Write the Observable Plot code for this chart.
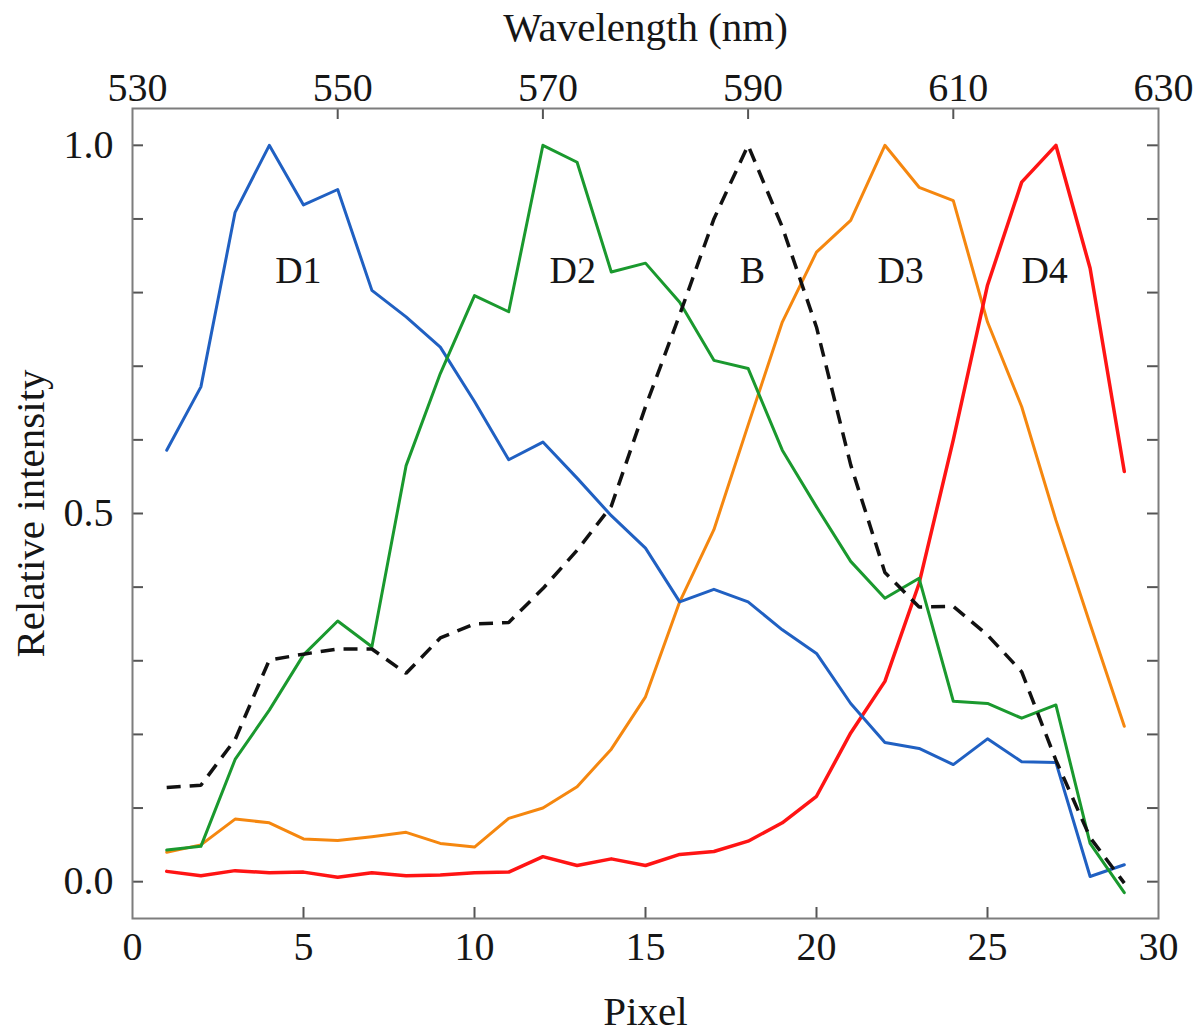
<!DOCTYPE html>
<html>
<head>
<meta charset="utf-8">
<script src="https://cdn.jsdelivr.net/npm/d3@7"></script>
<script src="https://cdn.jsdelivr.net/npm/@observablehq/plot@0.6"></script>
<style>
  html, body { margin: 0; padding: 0; background: #ffffff; }
  #chart svg { display: block; }
</style>
</head>
<body>
<div id="chart"></div>
<script>
// ---------- data ----------
const pixels = [1, 2, 3, 4, 5, 6, 7, 8, 9, 10, 11, 12, 13, 14, 15, 16, 17, 18, 19, 20, 21, 22, 23, 24, 25, 26, 27, 28, 29];

const seriesNames = ["D1", "D2", "B", "D3", "D4"];

const d1Values = [0.586, 0.672, 0.909, 1.0, 0.919, 0.940, 0.803, 0.767, 0.726, 0.652, 0.573, 0.597, 0.548, 0.497, 0.453,
                  0.380, 0.397, 0.380, 0.342, 0.310, 0.242, 0.189, 0.181, 0.159, 0.194, 0.163, 0.162, 0.007, 0.023];
const d2Values = [0.043, 0.048, 0.166, 0.233, 0.308, 0.354, 0.319, 0.565, 0.690, 0.796, 0.774, 1.0, 0.977, 0.828, 0.840,
                  0.787, 0.708, 0.697, 0.586, 0.509, 0.435, 0.385, 0.412, 0.245, 0.242, 0.222, 0.240, 0.052, -0.015];
const bValues  = [0.128, 0.131, 0.193, 0.301, 0.309, 0.316, 0.316, 0.283, 0.331, 0.350, 0.352, 0.398, 0.450, 0.510, 0.645,
                  0.770, 0.900, 1.0, 0.889, 0.753, 0.566, 0.420, 0.373, 0.374, 0.335, 0.285, 0.165, 0.060, -0.002];
const d3Values = [0.040, 0.050, 0.085, 0.080, 0.058, 0.056, 0.061, 0.067, 0.052, 0.047, 0.086, 0.100, 0.129, 0.180, 0.251,
                  0.380, 0.478, 0.620, 0.760, 0.855, 0.898, 1.0, 0.943, 0.925, 0.760, 0.645, 0.491, 0.350, 0.211];
const d4Values = [0.014, 0.008, 0.015, 0.012, 0.013, 0.006, 0.012, 0.008, 0.009, 0.012, 0.013, 0.034, 0.022, 0.031, 0.022,
                  0.037, 0.041, 0.055, 0.080, 0.116, 0.202, 0.272, 0.405, 0.600, 0.810, 0.950, 1.0, 0.833, 0.557];

// curve annotations (data coordinates)
const annotationText = ["D1", "D2", "B", "D3", "D4"];
const annotationPixel = [4.85, 12.87, 18.13, 22.46, 26.67];
const annotationIntensity = [0.83, 0.83, 0.83, 0.83, 0.83];

// axes
const pixelTicks = [0, 5, 10, 15, 20, 25, 30];
const pixelDomain = [0, 30];
const wavelengthTicks = [530, 550, 570, 590, 610, 630];
const wavelengthDomain = [530, 630];   // spans the same range as pixelDomain
const intensityTicks = [0, 0.5, 1.0];
const intensityMinorTicks = [0, 0.1, 0.2, 0.3, 0.4, 0.5, 0.6, 0.7, 0.8, 0.9, 1.0];
const intensityDomain = [-0.05, 1.05];

// ---------- styles ----------
const colors = { D1: "#2060c2", D2: "#1a992e", B: "#111111", D3: "#f5870f", D4: "#ff1414" };
const W = 1199, H = 1033;
const M = { top: 108, right: 41, bottom: 115, left: 132 };
const innerW = W - M.left - M.right;
const innerH = H - M.top - M.bottom;
const tickLen = 11;
const tickFont = 40;
const titleFont = 41;
const annFont = 38;
const textColor = "#161616";
const tickColor = "#555555";

// ---------- build table ----------
const valuesBySeries = { D1: d1Values, D2: d2Values, B: bValues, D3: d3Values, D4: d4Values };
const table = seriesNames.flatMap(name =>
  pixels.map((p, i) => ({ series: name, pixel: p, value: valuesBySeries[name][i] }))
);
const annotations = annotationText.map((t, i) => ({ text: t, pixel: annotationPixel[i], value: annotationIntensity[i] }));

const wl = d3.scaleLinear().domain(wavelengthDomain).range(pixelDomain);

const lineFor = (name, extra = {}) => Plot.line(table.filter(d => d.series === name), {
  x: "pixel", y: "value", stroke: colors[name], strokeWidth: 3, strokeLinejoin: "round", ...extra
});

const chart = Plot.plot({
  width: W, height: H,
  marginTop: M.top, marginRight: M.right, marginBottom: M.bottom, marginLeft: M.left,
  style: { fontFamily: "'Liberation Serif', 'DejaVu Serif', serif", fontSize: tickFont + "px", color: textColor, background: "#fff" },
  x: { domain: pixelDomain, axis: null },
  y: { domain: intensityDomain, axis: null },
  marks: [
    // inward ticks
    Plot.ruleX(pixelTicks.slice(1, -1), { x: d => d, insetTop: innerH - tickLen, stroke: tickColor, strokeWidth: 2 }),
    Plot.ruleX(wavelengthTicks.slice(1, -1).map(w => wl(w)), { x: d => d, insetBottom: innerH - tickLen, stroke: tickColor, strokeWidth: 2 }),
    Plot.ruleY(intensityMinorTicks, { y: d => d, insetRight: innerW - tickLen, stroke: tickColor, strokeWidth: 2 }),
    Plot.ruleY(intensityMinorTicks, { y: d => d, insetLeft: innerW - tickLen, stroke: tickColor, strokeWidth: 2 }),
    // series
    lineFor("D3"),
    lineFor("D4", { strokeWidth: 3.5 }),
    lineFor("D1"),
    lineFor("D2"),
    lineFor("B", { strokeDasharray: "14,9", strokeWidth: 3.5, strokeLinejoin: "miter", strokeLinecap: "butt" }),
    // curve labels
    Plot.text(annotations, { x: "pixel", y: "value", text: "text", fontSize: annFont, fill: textColor }),
    // frame
    Plot.frame({ stroke: "#7d7d7d", strokeWidth: 2 }),
    // axes
    Plot.axisX(pixelTicks, {
      anchor: "bottom", tickSize: 0, tickPadding: 13, fontSize: tickFont, fill: textColor,
      label: "Pixel", labelAnchor: "center", labelOffset: 106, labelArrow: false
    }),
    Plot.axisX(wavelengthTicks.map(w => wl(w)), {
      anchor: "top", tickSize: 0, tickPadding: 8, fontSize: tickFont, fill: textColor, dx: 5,
      tickFormat: p => String(Math.round(wl.invert(p))),
      label: "Wavelength (nm)", labelAnchor: "center", labelOffset: 97, labelArrow: false
    }),
    Plot.axisY(intensityTicks, {
      anchor: "left", tickSize: 0, tickPadding: 19, fontSize: tickFont, fill: textColor,
      tickFormat: d3.format(".1f"),
      label: "Relative intensity", labelAnchor: "center", labelOffset: 118, labelArrow: false
    })
  ]
});

// axis titles slightly larger than tick labels
chart.querySelectorAll("[aria-label$='axis label'] text").forEach(t => t.setAttribute("font-size", titleFont));

document.getElementById("chart").appendChild(chart);
</script>
</body>
</html>
